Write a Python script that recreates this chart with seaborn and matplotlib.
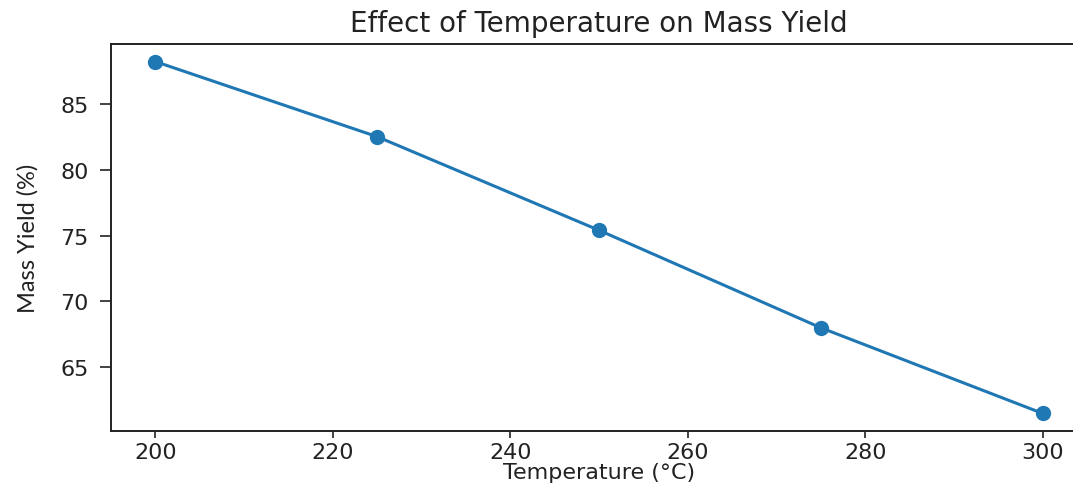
import matplotlib
matplotlib.use("Agg")
import matplotlib.pyplot as plt
import seaborn as sns
import pandas as pd

# Mass yield measured at each torrefaction temperature
temperatures = [200, 225, 250, 275, 300]
mass_yield = [88.2, 82.5, 75.4, 68.0, 61.5]

title = "Effect of Temperature on Mass Yield"
x_label = "Temperature (°C)"
y_label = "Mass Yield (%)"

sns.set_theme(style="ticks")
plt.rcParams["font.family"] = ["DejaVu Sans"]

df = pd.DataFrame({"temperature": temperatures, "mass_yield": mass_yield})

W, H = 1073, 485
fig = plt.figure(figsize=(W / 100, H / 100), dpi=100)
fig.patch.set_facecolor("white")
ax = fig.add_axes([111 / W, 53 / H, 976 / W, 387 / H])

sns.lineplot(
    data=df, x="temperature", y="mass_yield", ax=ax,
    color="#1f77b4", linewidth=2.2, marker="o", markersize=11,
    markeredgewidth=0, markerfacecolor="#1f77b4",
)

ax.set_xticks([200, 220, 240, 260, 280, 300])
ax.set_yticks([65, 70, 75, 80, 85])

ax.set_title(title, fontsize=20, color="#222222", pad=9)
ax.set_xlabel(x_label, fontsize=16, color="#222222", labelpad=0)
ax.set_ylabel(y_label, fontsize=17, color="#222222", labelpad=16,
              family=["Lato", "DejaVu Sans"])

ax.tick_params(axis="x", labelsize=16, length=5, width=1.2, pad=3,
               colors="#222222")
ax.tick_params(axis="y", labelsize=16, length=8, width=1.2, pad=8,
               colors="#222222")
for side in ["left", "bottom", "top", "right"]:
    ax.spines[side].set_linewidth(1.4)
    ax.spines[side].set_color("#222222")
ax.grid(False)

fig.savefig("out.png", dpi=100, facecolor="white")
